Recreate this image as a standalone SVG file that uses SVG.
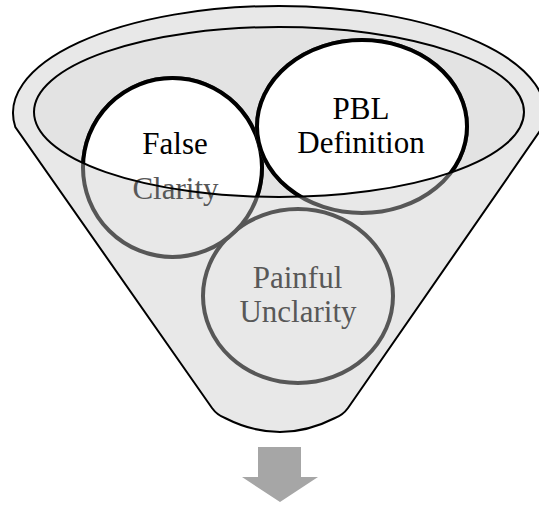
<svg xmlns="http://www.w3.org/2000/svg" width="539" height="506" viewBox="0 0 539 506">
<style>
.body{fill:#e8e8e8;stroke:#000;stroke-width:2}
.mouthfill{fill:#e3e3e3;stroke:none}
.mouthline{fill:none;stroke:#000;stroke-width:2}
.back{fill:#e8e8e8;stroke:#575757;stroke-width:4}
.front{fill:#fff;stroke:#000;stroke-width:4}
.t{font-family:"Liberation Serif","Times New Roman",serif;font-size:31px;text-anchor:middle}
.dark{fill:#000}
.grey{fill:#585858}
</style>
<defs>
<clipPath id="mouth"><ellipse cx="279" cy="112" rx="245" ry="85"/></clipPath>
</defs>
<g id="funnel">
<path class="body" d="M15.3,127 A266,107 0 1 1 542.7,127 L348,408 Q343,415 335,418 Q280,446 225,418 Q217,415 212,408 Z"/>
<ellipse class="mouthfill" cx="279" cy="112" rx="245" ry="85"/>
</g>
<g id="node-painful-unclarity">
<ellipse class="back" cx="298" cy="296" rx="95" ry="87"/>
<text class="t grey" x="297.5" y="288">Painful</text>
<text class="t grey" x="298" y="322">Unclarity</text>
</g>
<g id="node-false-clarity">
<ellipse class="back" cx="172.5" cy="167.5" rx="89.5" ry="89.5"/>
<ellipse class="front" cx="172.5" cy="167.5" rx="89.5" ry="89.5" clip-path="url(#mouth)"/>
<text class="t dark" x="175" y="154">False</text>
<text class="t grey" x="175.5" y="199">Clarity</text>
</g>
<g id="node-pbl-definition">
<ellipse class="back" cx="362" cy="126.5" rx="105" ry="86.5"/>
<ellipse class="front" cx="362" cy="126.5" rx="105" ry="86.5" clip-path="url(#mouth)"/>
<text class="t dark" x="361" y="119">PBL</text>
<text class="t dark" x="361" y="153">Definition</text>
</g>
<g id="funnel-rim">
<ellipse class="mouthline" cx="279" cy="112" rx="245" ry="85"/>
</g>
<g id="connectors">
<polygon fill="#a6a6a6" points="258,447 301,447 301,477 318,477 280,502 242,477 258,477"/>
</g>
</svg>
